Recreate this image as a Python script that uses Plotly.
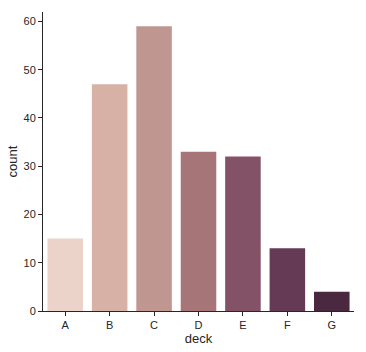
import plotly.graph_objects as go

decks = ["A", "B", "C", "D", "E", "F", "G"]
counts = [15, 47, 59, 33, 32, 13, 4]
colors = ["#ecd3c9", "#d7b0a6", "#c09690", "#a67578", "#845267", "#653a55", "#4a283f"]

fig = go.Figure(go.Bar(x=decks, y=counts, marker=dict(color=colors, line=dict(width=0)), width=0.8))
fig.update_layout(
    width=366, height=352, margin=dict(l=43, r=12, t=12, b=41),
    plot_bgcolor="white", paper_bgcolor="white",
    font=dict(family="Liberation Sans, Arial, sans-serif", size=11, color="#262626"),
    showlegend=False, bargap=0.2,
)
fig.update_xaxes(title=dict(text="deck", standoff=2), range=[-0.5, 6.5], showline=True, linecolor="#262626",
                 linewidth=1, ticks="outside", ticklen=4, tickcolor="#262626", showgrid=False, automargin=False)
fig.update_yaxes(title=dict(text="count", standoff=2), range=[0, 61.95], showline=True, linecolor="#262626",
                 linewidth=1, ticks="outside", ticklen=4, tickcolor="#262626", showgrid=False,
                 tickvals=[0, 10, 20, 30, 40, 50, 60], zeroline=False, automargin=False)
fig.write_html("out.html")
